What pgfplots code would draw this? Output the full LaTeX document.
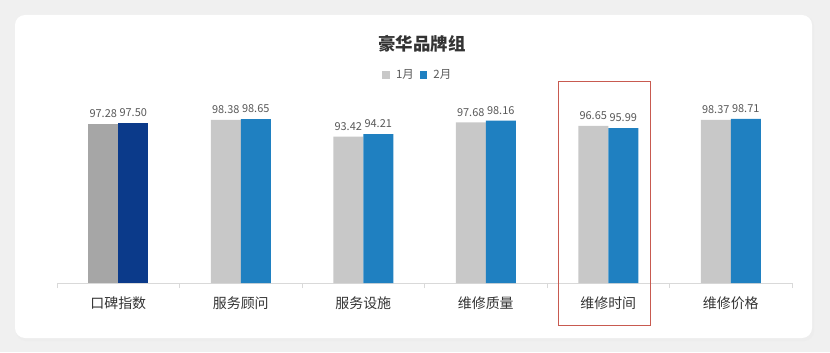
\documentclass[border=0pt]{standalone}
\usepackage{fontspec}
\setmainfont{Noto Sans CJK SC}
\usepackage{pgfplots}
\pgfplotsset{compat=1.18}
\definecolor{bg}{RGB}{240,240,240}
\definecolor{lg}{RGB}{200,200,200}
\definecolor{dg}{RGB}{166,166,166}
\definecolor{bl}{RGB}{31,128,193}
\definecolor{nv}{RGB}{11,58,138}
\definecolor{lbl}{RGB}{89,89,89}
\definecolor{txt}{RGB}{51,51,51}
\definecolor{ax}{RGB}{217,217,217}
\definecolor{rd}{RGB}{200,90,80}
\begin{document}
\begin{tikzpicture}[x=1bp,y=1bp]
\useasboundingbox (0,0) rectangle (830,352);
\fill[bg] (0,0) rectangle (830,352);
\fill[black!7, rounded corners=10bp] (16,11) rectangle (814,336);
\fill[white, rounded corners=10bp] (15,14) rectangle (812,337);
\node[font=\fontsize{17.5}{20}\selectfont\bfseries, text=txt] at (422,308) {豪华品牌组};
\begin{axis}[
  at={(57bp,69bp)}, anchor=south west, scale only axis,
  width=735bp, height=168.5bp,
  xmin=-0.5, xmax=5.5, ymin=50, ymax=100,
  clip=false,
  axis y line=none, axis x line*=bottom,
  x axis line style={ax, line width=0.8bp},
  xtick={0,1,2,3,4,5},
  xticklabels={口碑指数,服务顾问,服务设施,维修质量,维修时间,维修价格},
  major tick length=0pt,
  xticklabel style={font=\fontsize{14}{16}\selectfont, text=txt, yshift=-10bp},
  extra x ticks={-0.5,0.5,1.5,2.5,3.5,4.5,5.5},
  extra x tick labels={},
  extra x tick style={major tick length=5bp, tick align=outside, tick style={ax, line width=0.8bp}},
  ybar, bar width=30bp,
  nodes near coords,
  /pgf/number format/assume math mode=true,
  /pgf/number format/fixed,
  /pgf/number format/fixed zerofill,
  /pgf/number format/precision=2,
  nodes near coords style={font=\fontsize{11}{13}\selectfont, text=lbl, anchor=south, yshift=2.5bp},
  legend columns=2,
  legend style={at={(0.491,1.234)}, anchor=center, draw=none, fill=none, font=\fontsize{11.5}{13}\selectfont, text=lbl, column sep=4bp},
  legend image code/.code={\fill[#1,draw=none] (0bp,-3.8bp) rectangle (7.6bp,3.8bp);},
]
\addplot[fill=lg, draw=none, bar shift=-15bp] coordinates {(1,98.38) (2,93.42) (3,97.68) (4,96.65) (5,98.37)};
\addlegendentry{1月}
\addplot[fill=bl, draw=none, bar shift=15bp] coordinates {(1,98.65) (2,94.21) (3,98.16) (4,95.99) (5,98.71)};
\addlegendentry{2月}
\addplot[fill=dg, draw=none, bar shift=-15bp, forget plot] coordinates {(0,97.28)};
\addplot[fill=nv, draw=none, bar shift=15bp, forget plot] coordinates {(0,97.50)};
\end{axis}
\draw[rd, line width=0.9bp] (558,27) rectangle (650,271);
\end{tikzpicture}
\end{document}
